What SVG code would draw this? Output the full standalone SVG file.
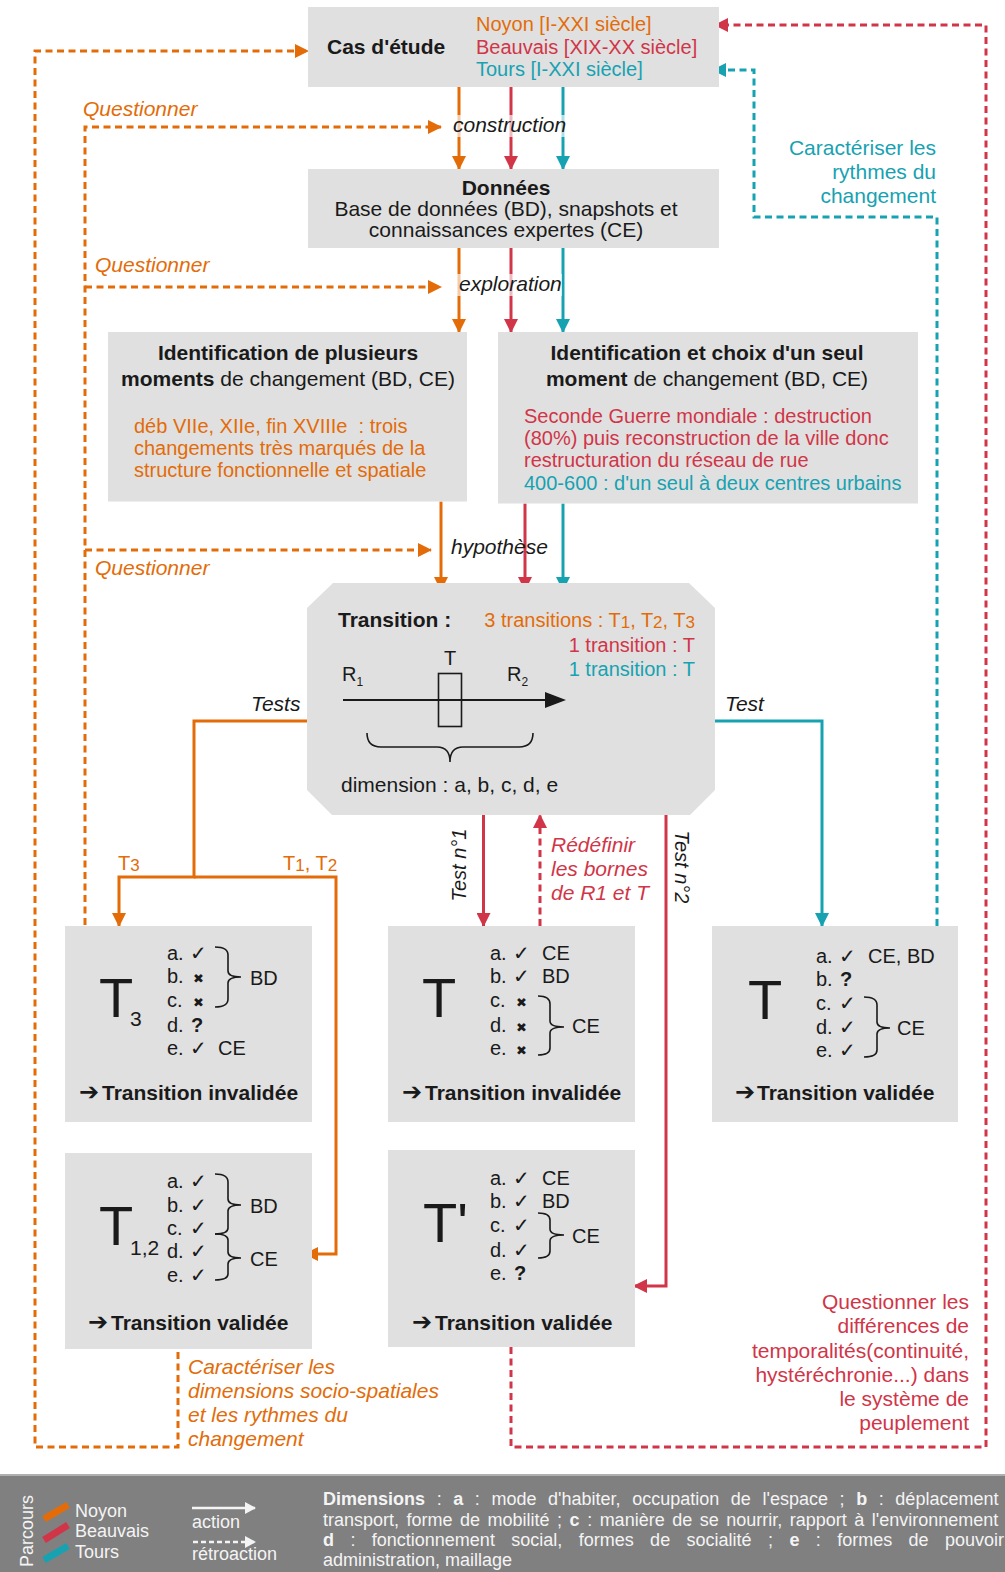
<svg xmlns="http://www.w3.org/2000/svg" width="1005" height="1572" viewBox="0 0 1005 1572">
<style>
text{font-family:"Liberation Sans",Arial,sans-serif;font-size:21px;fill:#1a1a1a}
.box{fill:#e0e0e0}
.b{font-weight:bold}
.i{font-style:italic}
.o{fill:#e36c09}
.r{fill:#d13548}
.t{fill:#17a2b2}
.w{fill:#f4f4f4}
.so{stroke:#e36c09}
.sr{stroke:#d13548}
.st{stroke:#17a2b2}
.ln{fill:none;stroke-width:3}
.d{stroke-dasharray:7 4.5}
.br{fill:none;stroke:#1a1a1a;stroke-width:1.6}
.ck{font-family:"DejaVu Sans",sans-serif;font-size:20px;font-weight:bold}
.x{font-family:"DejaVu Sans",sans-serif;font-size:13px;font-weight:bold}
.ar{font-family:"DejaVu Sans",sans-serif;font-size:24px;font-weight:bold}
.big{font-size:56px}
.m{font-size:20px}
.sub{font-size:17px}
.lg{font-size:18px;fill:#f4f4f4}
</style>
<defs>
<marker id="ao" markerUnits="userSpaceOnUse" markerWidth="14" markerHeight="14" viewBox="0 0 14 14" refX="13" refY="7" orient="auto"><path d="M0,0L14,7L0,14z" fill="#e36c09"/></marker>
<marker id="ar" markerUnits="userSpaceOnUse" markerWidth="14" markerHeight="14" viewBox="0 0 14 14" refX="13" refY="7" orient="auto"><path d="M0,0L14,7L0,14z" fill="#d13548"/></marker>
<marker id="at" markerUnits="userSpaceOnUse" markerWidth="14" markerHeight="14" viewBox="0 0 14 14" refX="13" refY="7" orient="auto"><path d="M0,0L14,7L0,14z" fill="#17a2b2"/></marker>
<marker id="aw" markerUnits="userSpaceOnUse" markerWidth="11" markerHeight="12" viewBox="0 0 11 12" refX="10" refY="6" orient="auto"><path d="M0,0L11,6L0,12z" fill="#f4f4f4"/></marker>
</defs>

<!-- connectors -->
<g id="connectors">
  <!-- solid orange -->
  <path class="ln so" d="M459,87V169" marker-end="url(#ao)"/>
  <path class="ln so" d="M459,248V332" marker-end="url(#ao)"/>
  <path class="ln so" d="M441,501.5V590" marker-end="url(#ao)"/>
  <path class="ln so" d="M307,721H194V877H119V926" marker-end="url(#ao)"/>
  <path class="ln so" d="M194,877H336V1254H305" marker-end="url(#ao)"/>
  <!-- solid red -->
  <path class="ln sr" d="M511,87V169" marker-end="url(#ar)"/>
  <path class="ln sr" d="M511,248V332" marker-end="url(#ar)"/>
  <path class="ln sr" d="M525,503.5V590" marker-end="url(#ar)"/>
  <path class="ln sr" d="M483.5,815V926" marker-end="url(#ar)"/>
  <path class="ln sr" d="M666,815V1286H634" marker-end="url(#ar)"/>
  <!-- solid teal -->
  <path class="ln st" d="M563,87V169" marker-end="url(#at)"/>
  <path class="ln st" d="M563,248V332" marker-end="url(#at)"/>
  <path class="ln st" d="M563,503.5V590" marker-end="url(#at)"/>
  <path class="ln st" d="M715,721H822V926" marker-end="url(#at)"/>
  <!-- dashed orange -->
  <path class="ln so d" d="M178,1352V1447H35V51H308" marker-end="url(#ao)"/>
  <path class="ln so d" d="M85,925V127H441" marker-end="url(#ao)"/>
  <path class="ln so d" d="M85,287H441" marker-end="url(#ao)"/>
  <path class="ln so d" d="M85,550H431" marker-end="url(#ao)"/>
  <!-- dashed red -->
  <path class="ln sr d" d="M540,926V815" marker-end="url(#ar)"/>
  <path class="ln sr d" d="M511,1347V1447H986V25H715" marker-end="url(#ar)"/>
  <!-- dashed teal -->
  <path class="ln st d" d="M937,926V217H754V70H713" marker-end="url(#at)"/>

  <!-- connector labels -->
  <rect x="450" y="115" width="116" height="22" fill="#fff" fill-opacity="0.65"/>
  <text class="i" x="453" y="132">construction</text>
  <rect x="456" y="274" width="106" height="22" fill="#fff" fill-opacity="0.65"/>
  <text class="i" x="459" y="291">exploration</text>
  <text class="i" x="451" y="554">hypothèse</text>
  <text class="i o" x="83" y="116">Questionner</text>
  <text class="i o" x="95" y="272">Questionner</text>
  <text class="i o" x="95" y="575">Questionner</text>
  <text class="i" x="251" y="711">Tests</text>
  <text class="i" x="725" y="711">Test</text>
  <text class="o m" x="118" y="870">T<tspan class="sub" dy="1">3</tspan></text>
  <text class="o m" x="283" y="870">T<tspan class="sub" dy="1">1</tspan><tspan dy="-1">, T</tspan><tspan class="sub" dy="1">2</tspan></text>
  <text class="i m" transform="translate(466,865) rotate(-90)" text-anchor="middle">Test n°1</text>
  <text class="i m" transform="translate(675,867) rotate(90)" text-anchor="middle">Test n°2</text>
  <text class="i r" x="551" y="852">Rédéfinir</text>
  <text class="i r" x="551" y="876">les bornes</text>
  <text class="i r" x="551" y="900">de R1 et T</text>
  <g text-anchor="end">
    <text class="t" x="936" y="155">Caractériser les</text>
    <text class="t" x="936" y="179">rythmes du</text>
    <text class="t" x="936" y="203">changement</text>
  </g>
  <g text-anchor="end">
    <text class="r" x="969" y="1309">Questionner les</text>
    <text class="r" x="969" y="1333">différences de</text>
    <text class="r" x="969" y="1358">temporalités(continuité,</text>
    <text class="r" x="969" y="1382">hystéréchronie...) dans</text>
    <text class="r" x="969" y="1406">le système de</text>
    <text class="r" x="969" y="1430">peuplement</text>
  </g>
  <text class="i o" x="188" y="1374">Caractériser les</text>
  <text class="i o" x="188" y="1398">dimensions socio-spatiales</text>
  <text class="i o" x="188" y="1422">et les rythmes du</text>
  <text class="i o" x="188" y="1446">changement</text>
</g>

<!-- nodes -->
<g id="cas">
  <rect class="box" x="308" y="7" width="411" height="80"/>
  <text class="b" x="327" y="54">Cas d'étude</text>
  <text class="o m" x="476" y="31">Noyon [I-XXI siècle]</text>
  <text class="r m" x="476" y="54">Beauvais [XIX-XX siècle]</text>
  <text class="t m" x="476" y="76">Tours [I-XXI siècle]</text>
</g>
<g id="donnees">
  <rect class="box" x="308" y="169" width="411" height="79"/>
  <text class="b" x="506" y="194.5" text-anchor="middle">Données</text>
  <text x="506" y="215.5" text-anchor="middle">Base de données (BD), snapshots et</text>
  <text x="506" y="237" text-anchor="middle">connaissances expertes (CE)</text>
</g>
<g id="ident-plusieurs">
  <rect class="box" x="108" y="332" width="359" height="169.5"/>
  <text class="b" x="288" y="360" text-anchor="middle">Identification de plusieurs</text>
  <text x="288" y="386" text-anchor="middle"><tspan font-weight="bold">moments</tspan> de changement (BD, CE)</text>
  <text class="o m" x="134" y="433" xml:space="preserve">déb VIIe, XIIe, fin XVIIIe  : trois</text>
  <text class="o m" x="134" y="455">changements très marqués de la</text>
  <text class="o m" x="134" y="477">structure fonctionnelle et spatiale</text>
</g>
<g id="ident-seul">
  <rect class="box" x="498" y="332" width="420" height="171.5"/>
  <text class="b" x="707" y="360" text-anchor="middle">Identification et choix d'un seul</text>
  <text x="707" y="386" text-anchor="middle"><tspan font-weight="bold">moment</tspan> de changement (BD, CE)</text>
  <text class="r m" x="524" y="423">Seconde Guerre mondiale : destruction</text>
  <text class="r m" x="524" y="445">(80%) puis reconstruction de la ville donc</text>
  <text class="r m" x="524" y="467">restructuration du réseau de rue</text>
  <text class="t m" x="524" y="490">400-600 : d'un seul à deux centres urbains</text>
</g>
<g id="transition">
  <path class="box" d="M333,583H689L715,608V790L690,815H332L307,790V608Z"/>
  <text class="b" x="338" y="627">Transition :</text>
  <text class="o m" x="695" y="627" text-anchor="end">3 transitions : T<tspan class="sub" dy="1">1</tspan><tspan dy="-1">, T</tspan><tspan class="sub" dy="1">2</tspan><tspan dy="-1">, T</tspan><tspan class="sub" dy="1">3</tspan></text>
  <text class="r m" x="695" y="652" text-anchor="end">1 transition : T</text>
  <text class="t m" x="695" y="676" text-anchor="end">1 transition : T</text>
  <text class="m" x="450" y="665" text-anchor="middle">T</text>
  <text class="m" x="342" y="681">R<tspan font-size="12" dy="5">1</tspan></text>
  <text class="m" x="507" y="681">R<tspan font-size="12" dy="5">2</tspan></text>
  <path d="M343,700H550" stroke="#1a1a1a" stroke-width="2" fill="none"/>
  <path d="M545,692L566,700L545,708Z" fill="#1a1a1a"/>
  <rect x="438.5" y="673.5" width="23" height="53" fill="none" stroke="#1a1a1a" stroke-width="1.6"/>
  <path class="br" d="M367,733Q367,747 381,747H437Q450,747 450,762Q450,747 463,747H519Q533,747 533,733"/>
  <text x="341" y="792">dimension : a, b, c, d, e</text>
</g>
<g id="t3">
  <rect class="box" x="65" y="926" width="247" height="196"/>
  <text class="big" x="99" y="1017">T</text>
  <text font-size="18" x="130" y="1026">3</text>
  <text class="m" x="167" y="960">a.</text><text class="ck" x="190" y="960">✓</text>
  <text class="m" x="167" y="983">b.</text><text class="x" x="193" y="983">✖</text>
  <text class="m" x="167" y="1007">c.</text><text class="x" x="193" y="1007">✖</text>
  <text class="m" x="167" y="1032">d.</text><text class="m b" x="191" y="1032">?</text>
  <text class="m" x="167" y="1055">e.</text><text class="ck" x="190" y="1055">✓</text>
  <text class="m" x="218" y="1055">CE</text>
  <path class="br" d="M215,947Q228,947 228,955V971Q228,977 241,977Q228,977 228,983V999Q228,1007 215,1007"/>
  <text class="m" x="250" y="985">BD</text>
  <text class="ar" x="79" y="1100">➔</text>
  <text class="b" x="102" y="1100">Transition invalidée</text>
</g>
<g id="t-test1">
  <rect class="box" x="388" y="926" width="247" height="196"/>
  <text class="big" x="422" y="1017">T</text>
  <text class="m" x="490" y="960">a.</text><text class="ck" x="513" y="960">✓</text><text class="m" x="542" y="960">CE</text>
  <text class="m" x="490" y="983">b.</text><text class="ck" x="513" y="983">✓</text><text class="m" x="542" y="983">BD</text>
  <text class="m" x="490" y="1007">c.</text><text class="x" x="516" y="1007">✖</text>
  <text class="m" x="490" y="1032">d.</text><text class="x" x="516" y="1032">✖</text>
  <text class="m" x="490" y="1055">e.</text><text class="x" x="516" y="1055">✖</text>
  <path class="br" d="M538,996Q550,996 550,1004V1021Q550,1027 564,1027Q550,1027 550,1033V1048Q550,1055 538,1055"/>
  <text class="m" x="572" y="1033">CE</text>
  <text class="ar" x="402" y="1100">➔</text>
  <text class="b" x="425" y="1100">Transition invalidée</text>
</g>
<g id="t-tours">
  <rect class="box" x="712" y="926" width="246" height="196"/>
  <text class="big" x="748" y="1019">T</text>
  <text class="m" x="816" y="963">a.</text><text class="ck" x="839" y="963">✓</text><text class="m" x="868" y="963">CE, BD</text>
  <text class="m" x="816" y="986">b.</text><text class="m b" x="840" y="986">?</text>
  <text class="m" x="816" y="1010">c.</text><text class="ck" x="839" y="1010">✓</text>
  <text class="m" x="816" y="1034">d.</text><text class="ck" x="839" y="1034">✓</text>
  <text class="m" x="816" y="1057">e.</text><text class="ck" x="839" y="1057">✓</text>
  <path class="br" d="M864,997Q877,997 877,1005V1022Q877,1028 890,1028Q877,1028 877,1034V1050Q877,1057 864,1057"/>
  <text class="m" x="897" y="1035">CE</text>
  <text class="ar" x="735" y="1100">➔</text>
  <text class="b" x="757" y="1100">Transition validée</text>
</g>
<g id="t12">
  <rect class="box" x="65" y="1153" width="247" height="196"/>
  <text class="big" x="99" y="1245">T</text>
  <text font-size="18" x="130" y="1255">1,2</text>
  <text class="m" x="167" y="1188">a.</text><text class="ck" x="190" y="1188">✓</text>
  <text class="m" x="167" y="1212">b.</text><text class="ck" x="190" y="1212">✓</text>
  <text class="m" x="167" y="1235">c.</text><text class="ck" x="190" y="1235">✓</text>
  <text class="m" x="167" y="1258">d.</text><text class="ck" x="190" y="1258">✓</text>
  <text class="m" x="167" y="1282">e.</text><text class="ck" x="190" y="1282">✓</text>
  <path class="br" d="M215,1174Q228,1174 228,1182V1199Q228,1205 241,1205Q228,1205 228,1211V1228Q228,1234 215,1234"/>
  <path class="br" d="M215,1234Q228,1234 228,1240V1252Q228,1258 241,1258Q228,1258 228,1264V1274Q228,1280 215,1280"/>
  <text class="m" x="250" y="1213">BD</text>
  <text class="m" x="250" y="1266">CE</text>
  <text class="ar" x="88" y="1330">➔</text>
  <text class="b" x="111" y="1330">Transition validée</text>
</g>
<g id="t-prime">
  <rect class="box" x="388" y="1150" width="247" height="197"/>
  <text class="big" x="423" y="1242">T'</text>
  <text class="m" x="490" y="1185">a.</text><text class="ck" x="513" y="1185">✓</text><text class="m" x="542" y="1185">CE</text>
  <text class="m" x="490" y="1208">b.</text><text class="ck" x="513" y="1208">✓</text><text class="m" x="542" y="1208">BD</text>
  <text class="m" x="490" y="1232">c.</text><text class="ck" x="513" y="1232">✓</text>
  <text class="m" x="490" y="1257">d.</text><text class="ck" x="513" y="1257">✓</text>
  <text class="m" x="490" y="1280">e.</text><text class="m b" x="514" y="1280">?</text>
  <path class="br" d="M538,1213Q550,1213 550,1220V1229Q550,1235 564,1235Q550,1235 550,1241V1251Q550,1258 538,1258"/>
  <text class="m" x="572" y="1243">CE</text>
  <text class="ar" x="412" y="1330">➔</text>
  <text class="b" x="435" y="1330">Transition validée</text>
</g>

<g id="legend">
  <rect x="0" y="1476" width="1005" height="96" fill="#808080"/>
  <rect x="0" y="1474" width="1005" height="2" fill="#b0b0b0"/>
  <text class="lg" transform="translate(33,1531) rotate(-90)" text-anchor="middle">Parcours</text>
  <path d="M44,1519L68,1505" stroke="#e36c09" stroke-width="7"/>
  <path d="M44,1540L68,1525" stroke="#d13548" stroke-width="7"/>
  <path d="M44,1560L68,1546" stroke="#17a2b2" stroke-width="7"/>
  <text class="lg" x="75" y="1517">Noyon</text>
  <text class="lg" x="75" y="1537">Beauvais</text>
  <text class="lg" x="75" y="1558">Tours</text>
  <path d="M192,1508H255" stroke="#f4f4f4" stroke-width="2.5" marker-end="url(#aw)"/>
  <text class="lg" x="192" y="1528">action</text>
  <path d="M193,1542H255" stroke="#f4f4f4" stroke-width="2.5" stroke-dasharray="5 3" marker-end="url(#aw)"/>
  <text class="lg" x="192" y="1560">rétroaction</text>
  <text class="lg" x="323" y="1505" word-spacing="6.6"><tspan font-weight="bold">Dimensions</tspan> : <tspan font-weight="bold">a</tspan> : mode d'habiter, occupation de l'espace ; <tspan font-weight="bold">b</tspan> : déplacement</text>
  <text class="lg" x="323" y="1525.5" word-spacing="2.5">transport, forme de mobilité ; <tspan font-weight="bold">c</tspan> : manière de se nourrir, rapport à l'environnement</text>
  <text class="lg" x="323" y="1546" word-spacing="11.4"><tspan font-weight="bold">d</tspan> : fonctionnement social, formes de socialité ; <tspan font-weight="bold">e</tspan> : formes de pouvoir</text>
  <text class="lg" x="323" y="1566">administration, maillage</text>
</g>
</svg>
